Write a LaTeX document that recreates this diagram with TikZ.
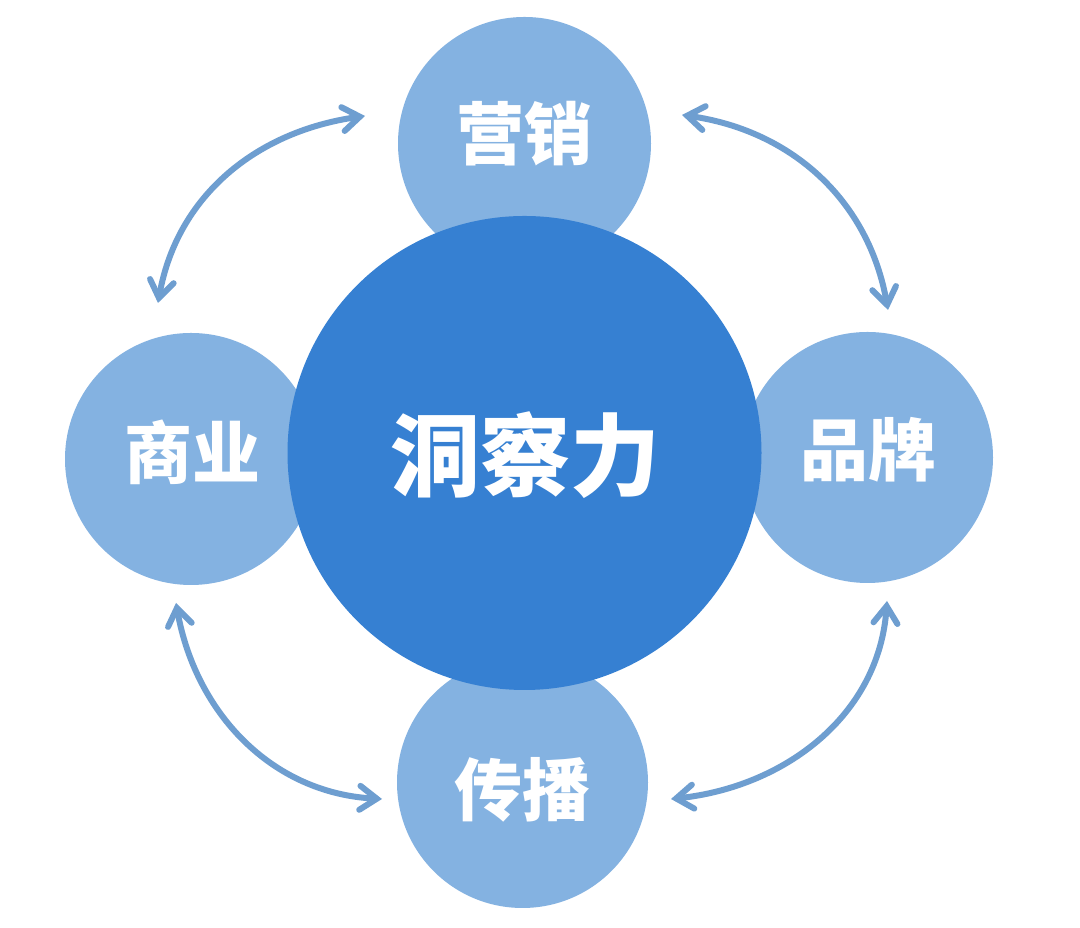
\documentclass[tikz,border=0pt]{standalone}
\usepackage{fontspec}
\newfontfamily\cjk{Noto Sans CJK SC}
\usetikzlibrary{arrows.meta}
\definecolor{small}{RGB}{132,178,225}
\definecolor{big}{RGB}{54,128,210}
\definecolor{arrc}{RGB}{110,158,208}
\tikzset{
  smallc/.style={circle,fill=small,draw=none,inner sep=0pt},
  bigc/.style={circle,fill=big,draw=none,inner sep=0pt},
  lbl/.style={text=white,font=\cjk\bfseries\fontsize{68}{68}\selectfont,inner sep=0pt},
  biglbl/.style={text=white,font=\cjk\bfseries\fontsize{90}{90}\selectfont,inner sep=0pt},
  arr/.style={draw=arrc,line width=6pt,line cap=round,
    {Straight Barb[length=17pt,width=24pt,line cap=round]}-{Straight Barb[length=17pt,width=24pt,line cap=round]}}
}
\begin{document}
\begin{tikzpicture}[x=1pt,y=1pt]
\useasboundingbox[fill=white] (0,0) rectangle (1080,928);
% small circles
\node[smallc,minimum size=253pt] (top) at (524.5,784.5) {};
\node[smallc,minimum size=252pt] (left) at (191,469) {};
\node[smallc,minimum size=251pt] (right) at (867.5,470.5) {};
\node[smallc,minimum size=251pt] (bottom) at (522.5,145.5) {};
% central circle
\node[bigc,minimum size=474pt] (center) at (524.5,475) {};
% labels
\node[lbl] (ttop) at (524,794) {营销};
\node[lbl] (tleft) at (192,476) {商业};
\node[lbl] (tright) at (868,478) {品牌};
\node[lbl] (tbottom) at (522,138) {传播};
\node[biglbl] (tcenter) at (525,473) {洞察力};
% arrow ends
\coordinate (tlA) at (365,812);
\coordinate (tlB) at (158,625);
\coordinate (trA) at (682,813);
\coordinate (trB) at (888,618);
\coordinate (blA) at (176,325);
\coordinate (blB) at (382,129);
\coordinate (brA) at (887,327);
\coordinate (brB) at (671,129);
\draw[arr] (tlB) to[out=80,in=188] (tlA);
\draw[arr] (trA) to[out=-8,in=100] (trB);
\draw[arr] (blA) to[out=280,in=177] (blB);
\draw[arr] (brA) to[out=266,in=6] (brB);
\end{tikzpicture}
\end{document}
